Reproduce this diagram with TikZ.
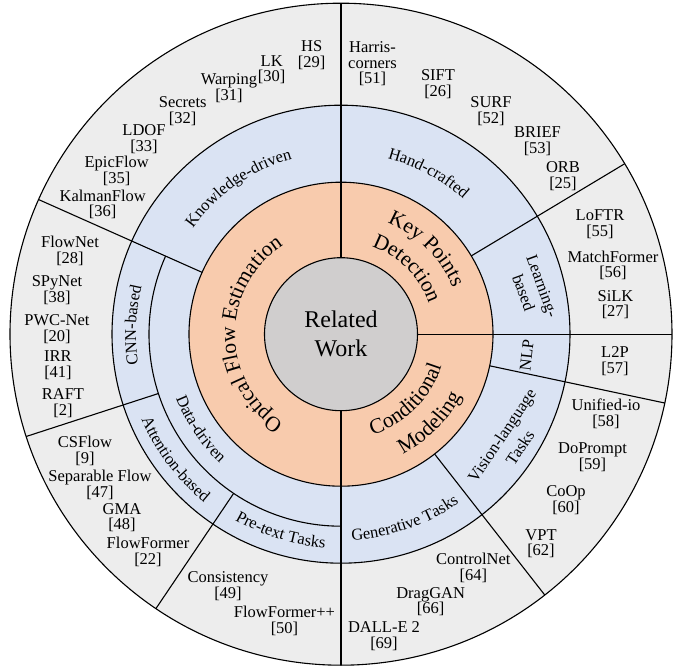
\documentclass[tikz,border=0pt]{standalone}
\usepackage{fontspec}
\setmainfont{Liberation Serif}
\usetikzlibrary{decorations.text}
\definecolor{outergrey}{HTML}{EDEDED}
\definecolor{ringblue}{HTML}{DAE3F3}
\definecolor{ringorange}{HTML}{F8CBAD}
\definecolor{coregrey}{HTML}{D0CECE}
\newcommand\leaffont{\fontsize{16.5}{15.5}\selectfont}
\newcommand\bluefont{\fontsize{16.5}{20}\selectfont}
\newcommand\orangefont{\fontsize{21.5}{26}\selectfont}
\newcommand\corefont{\fontsize{24}{29}\selectfont}
\begin{document}
\begin{tikzpicture}[x=1pt,y=1pt,
  ringline/.style={draw=black, line width=1.1pt},
  sepline/.style={draw=black, line width=1.1pt},
  leaf/.style={align=center, inner sep=0pt, font=\leaffont},
  rotlabel/.style={align=center, inner sep=0pt, font=\bluefont},
  curvetext/.style={decorate, decoration={text along path, text={#1}, text align=center}},
]
\useasboundingbox (-341,-335.8) rectangle (340,334.2);
% rings
\filldraw[ringline, fill=outergrey] (0,0) circle[radius=331];
\filldraw[ringline, fill=ringblue] (0,0) circle[radius=229];
\filldraw[ringline, fill=ringorange] (0,0) circle[radius=152];
\filldraw[ringline, fill=coregrey] (0,0) circle[radius=76.5];
\draw[ringline] (156:192) arc[start angle=156, end angle=270, radius=192];
% separators
\draw[sepline] (90:76.5) -- (90:331);
\draw[sepline] (0:76.5) -- (0:331);
\draw[sepline] (270:76.5) -- (270:331);
\draw[sepline] (31:152) -- (31:331);
\draw[sepline] (-12:152) -- (-12:331);
\draw[sepline] (-52:152) -- (-52:331);
\draw[sepline] (156:152) -- (156:331);
\draw[sepline] (198:192) -- (198:331);
\draw[sepline] (236:192) -- (236:331);
% core
\node[align=center, inner sep=0pt, font=\corefont] (core) at (0,0.5) {Related\\Work};
% orange labels
\path[curvetext={|\orangefont|Optical Flow Estimation}] (265:106) arc[start angle=265, end angle=95, radius=106];
\path[curvetext={|\orangefont|Key Points}] (100:121) arc[start angle=100, end angle=-10, radius=121];
\path[curvetext={|\orangefont|Detection}] (110:93) arc[start angle=110, end angle=-20, radius=93];
\path[curvetext={|\orangefont|Conditional}] (-115:105.5) arc[start angle=-115, end angle=25, radius=105.5];
\path[curvetext={|\orangefont|Modeling}] (-100:135) arc[start angle=-100, end angle=10, radius=135];
% blue labels
\path[curvetext={|\bluefont|Knowledge-driven}] (175:182) arc[start angle=175, end angle=75, radius=182];
\path[curvetext={|\bluefont|Hand-crafted}] (111.5:182) arc[start angle=111.5, end angle=11.5, radius=182];
\path[curvetext={|\bluefont|CNN-based}] (217.5:205) arc[start angle=217.5, end angle=137.5, radius=205];
\path[curvetext={|\bluefont|Data-driven}] (169:177) arc[start angle=169, end angle=259, radius=177];
\path[curvetext={|\bluefont|Attention-based}] (177:217) arc[start angle=177, end angle=257, radius=217];
\path[curvetext={|\bluefont|Pre-text Tasks}] (213:214) arc[start angle=213, end angle=293, radius=214];
\path[curvetext={|\bluefont|Generative Tasks}] (244:206) arc[start angle=244, end angle=334, radius=206];
\node[rotlabel, rotate=83.5] (nlp) at (-6.5:187) {NLP};
\node[rotlabel, rotate=56] (vlt) at (-32.3:201) {Vision-language\\[2pt]Tasks};
\node[rotlabel, rotate=-70] (lrn) at (13.1:197) {Learning-\\based};
% leaves (image coordinates)
\begin{scope}[shift={(-341,334.2)}, yscale=-1]
\node[leaf] (hs) at (311.7,55) {HS\\{[29]}};
\node[leaf] (lk) at (271.7,69.5) {LK\\{[30]}};
\node[leaf] (warp) at (229,88) {Warping\\{[31]}};
\node[leaf] (secr) at (182.7,111) {Secrets\\{[32]}};
\node[leaf] (ldof) at (144,139) {LDOF\\{[33]}};
\node[leaf] (epic) at (116.7,171) {EpicFlow\\{[35]}};
\node[leaf] (kalm) at (102.7,204.5) {KalmanFlow\\{[36]}};
\node[leaf] (fnet) at (70,251) {FlowNet\\{[28]}};
\node[leaf] (spy) at (57,290) {SPyNet\\{[38]}};
\node[leaf] (pwc) at (57,329) {PWC-Net\\{[20]}};
\node[leaf] (irr) at (58,365) {IRR\\{[41]}};
\node[leaf] (raft) at (63,403) {RAFT\\{[2]}};
\node[leaf] (csf) at (85,451) {CSFlow\\{[9]}};
\node[leaf] (sepf) at (100,485) {Separable Flow\\{[47]}};
\node[leaf] (gma) at (122,517.5) {GMA\\{[48]}};
\node[leaf] (ff) at (148,551.7) {FlowFormer\\{[22]}};
\node[leaf] (cons) at (228,586.3) {Consistency\\{[49]}};
\node[leaf] (ffpp) at (284.5,621) {FlowFormer++\\{[50]}};
\node[leaf] (l2p) at (615,361) {L2P\\{[57]}};
\node[leaf] (uio) at (606,414) {Unified-io\\{[58]}};
\node[leaf] (dop) at (592.5,457) {DoPrompt\\{[59]}};
\node[leaf] (coop) at (566,500) {CoOp\\{[60]}};
\node[leaf] (vpt) at (541,543.5) {VPT\\{[62]}};
\node[leaf] (cnet) at (473.3,568) {ControlNet\\{[64]}};
\node[leaf] (dgan) at (430.7,601.7) {DragGAN\\{[66]}};
\node[leaf] (dalle) at (384,636) {DALL-E 2\\{[69]}};
\node[leaf] (harr) at (372.5,64) {Harris-\\corners\\{[51]}};
\node[leaf] (sift) at (438,84.3) {SIFT\\{[26]}};
\node[leaf] (surf) at (491,111) {SURF\\{[52]}};
\node[leaf] (brief) at (537.5,141.3) {BRIEF\\{[53]}};
\node[leaf] (orb) at (563,176.3) {ORB\\{[25]}};
\node[leaf] (loftr) at (600,224) {LoFTR\\{[55]}};
\node[leaf] (mform) at (613,265.3) {MatchFormer\\{[56]}};
\node[leaf] (silk) at (615.5,304.7) {SiLK\\{[27]}};
\end{scope}
\end{tikzpicture}
\end{document}
